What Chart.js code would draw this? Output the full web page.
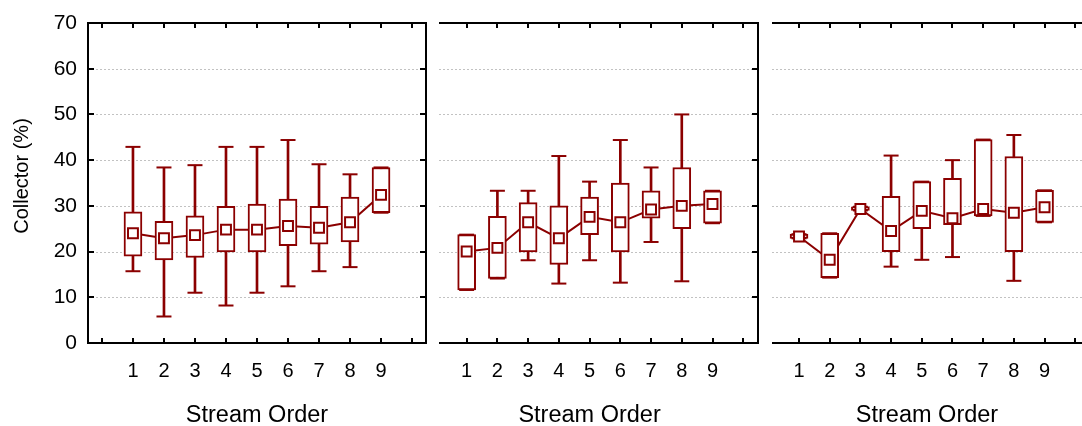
<!DOCTYPE html>
<html>
<head>
<meta charset="utf-8">
<script src="https://cdn.jsdelivr.net/npm/chart.js@4.4.1/dist/chart.umd.min.js"></script>
<style>
  html, body { margin: 0; padding: 0; background: #fff; }
  body { width: 1082px; height: 426px; position: relative; overflow: hidden; }
  canvas { position: absolute; top: 0; }
</style>
</head>
<body>
<canvas id="panelA" width="432" height="426" style="left:0px"></canvas>
<canvas id="panelB" width="334" height="426" style="left:432px"></canvas>
<canvas id="panelC" width="316" height="426" style="left:766px"></canvas>
<script>
// Stream orders (x categories) and y-axis tick values
const categories = ['1', '2', '3', '4', '5', '6', '7', '8', '9'];
const yTicks = [0, 10, 20, 30, 40, 50, 60, 70];
const xTitle = 'Stream Order';
const yTitle = 'Collector (%)';

// Panel A: whisker min, lower quartile, median, upper quartile, whisker max
const panelAMin    = [15.7,  5.8, 11.0,  8.2, 11.0, 12.4, 15.7, 16.6, 28.5];
const panelAQ1     = [19.0, 18.2, 18.7, 19.9, 19.9, 21.3, 21.6, 22.1, 28.5];
const panelAMedian = [24.0, 22.9, 23.6, 24.8, 24.8, 25.6, 25.2, 26.4, 32.4];
const panelAQ3     = [28.7, 26.6, 27.8, 29.9, 30.4, 31.5, 29.9, 31.9, 38.4];
const panelAMax    = [42.9, 38.4, 38.9, 42.9, 42.9, 44.4, 39.1, 36.9, 38.4];

// Panel B
const panelBMin    = [11.6, 14.1, 18.1, 13.0, 18.1, 13.2, 22.1, 13.5, 26.2];
const panelBQ1     = [11.6, 14.1, 19.9, 17.2, 23.7, 19.9, 27.3, 25.0, 26.2];
const panelBMedian = [20.0, 20.8, 26.4, 22.9, 27.6, 26.4, 29.2, 30.0, 30.4];
const panelBQ3     = [23.7, 27.7, 30.7, 30.0, 31.9, 35.0, 33.3, 38.4, 33.3];
const panelBMax    = [23.7, 33.3, 33.3, 40.9, 35.3, 44.4, 38.4, 50.0, 33.3];

// Panel C
const panelCMin    = [22.9, 14.3, 29.0, 16.7, 18.2, 18.8, 27.8, 13.6, 26.4];
const panelCQ1     = [22.9, 14.3, 29.0, 20.0, 25.0, 25.9, 27.8, 20.0, 26.4];
const panelCMedian = [23.3, 18.2, 29.3, 24.5, 28.9, 27.3, 29.3, 28.5, 29.7];
const panelCQ3     = [23.8, 24.0, 29.8, 32.1, 35.3, 36.0, 44.5, 40.8, 33.4];
const panelCMax    = [23.8, 24.0, 29.8, 41.0, 35.3, 40.0, 44.5, 45.5, 33.4];

const RED = '#8b0000';
const FONT = "'Liberation Sans', Arial, Helvetica, sans-serif";
const PLOT_TOP = 23;
const PLOT_BOTTOM = 343;
const CANVAS_H = 426;

// Frame, inward tick marks, dotted grid and axis titles
const framePlugin = {
  id: 'frame',
  beforeDatasetsDraw(chart, args, o) {
    const { ctx, chartArea: a, scales: { y } } = chart;
    ctx.save();
    ctx.strokeStyle = '#c2c2c2';
    ctx.lineWidth = 1;
    ctx.setLineDash([2, 2]);
    y.ticks.forEach(t => {
      if (t.value <= y.min || t.value >= y.max) return;
      const py = Math.round(y.getPixelForValue(t.value)) + 0.5;
      ctx.beginPath();
      ctx.moveTo(a.left, py);
      ctx.lineTo(a.right, py);
      ctx.stroke();
    });
    ctx.restore();
  },
  afterDatasetsDraw(chart, args, o) {
    const { ctx, chartArea: a, scales: { x, y } } = chart;
    ctx.save();
    ctx.strokeStyle = '#000';
    ctx.lineWidth = 2;
    ctx.lineCap = 'butt';
    const sides = o.sides || [];
    ctx.beginPath();
    if (sides.includes('top'))    { ctx.moveTo(a.left, a.top); ctx.lineTo(a.right, a.top); }
    if (sides.includes('bottom')) { ctx.moveTo(a.left, a.bottom); ctx.lineTo(a.right, a.bottom); }
    if (sides.includes('left'))   { ctx.moveTo(a.left, a.top - 1); ctx.lineTo(a.left, a.bottom + 1); }
    if (sides.includes('right'))  { ctx.moveTo(a.right, a.top - 1); ctx.lineTo(a.right, a.bottom + 1); }
    ctx.stroke();

    const len = 5;
    ctx.beginPath();
    x.ticks.forEach(t => {
      const px = Math.round(x.getPixelForValue(t.value));
      ctx.moveTo(px, a.bottom); ctx.lineTo(px, a.bottom - len);
      ctx.moveTo(px, a.top);    ctx.lineTo(px, a.top + len);
    });
    (o.yTickSides || []).forEach(side => {
      y.ticks.forEach(t => {
        const py = Math.round(y.getPixelForValue(t.value));
        if (side === 'left')  { ctx.moveTo(a.left, py);  ctx.lineTo(a.left + len + 1, py); }
        if (side === 'right') { ctx.moveTo(a.right, py); ctx.lineTo(a.right - len - 1, py); }
      });
    });
    ctx.stroke();
    ctx.restore();
  },
  afterDraw(chart, args, o) {
    const { ctx, chartArea: a, scales: { x } } = chart;
    ctx.save();
    ctx.fillStyle = '#000';
    ctx.textAlign = 'center';
    ctx.textBaseline = 'middle';
    ctx.font = `${o.titleSize}px ${FONT}`;
    const tx = o.titleValue != null ? x.getPixelForValue(o.titleValue) : (a.left + a.right) / 2;
    ctx.fillText(xTitle, tx, o.titleY);
    if (o.yTitle) {
      ctx.font = `${o.yTitle.size}px ${FONT}`;
      ctx.translate(o.yTitle.x, o.yTitle.y);
      ctx.rotate(-Math.PI / 2);
      ctx.fillText(yTitle, 0, 0);
    }
    ctx.restore();
  }
};

function boxDatasets(mn, q1, md, q3, mx) {
  const xs = categories.map(Number);
  return [
    { // median trace, drawn underneath everything
      type: 'line', order: 5,
      data: xs.map((x, i) => ({ x, y: md[i] })),
      borderColor: RED, borderWidth: 2, pointRadius: 0, tension: 0, fill: false
    },
    { // whisker stems
      type: 'bar', order: 4, grouped: false,
      data: xs.map((x, i) => ({ x, y: [mn[i], mx[i]] })),
      backgroundColor: RED, borderWidth: 0, barThickness: 2
    },
    { // whisker caps
      type: 'scatter', order: 3,
      data: xs.flatMap((x, i) => [{ x, y: mn[i] }, { x, y: mx[i] }]),
      pointStyle: 'line', pointRadius: 7.5, borderColor: RED, borderWidth: 2
    },
    { // quartile boxes
      type: 'bar', order: 2, grouped: false,
      data: xs.map((x, i) => ({ x, y: [q1[i], q3[i]] })),
      backgroundColor: '#fff', borderColor: RED, borderWidth: 2,
      borderSkipped: false, barThickness: 18
    },
    { // median markers
      type: 'scatter', order: 1,
      data: xs.map((x, i) => ({ x, y: md[i] })),
      pointStyle: 'rect', pointRadius: 7,
      backgroundColor: '#fff', borderColor: RED, borderWidth: 2
    }
  ];
}

function makePanel(id, cfg) {
  const canvas = document.getElementById(id);
  return new Chart(canvas, {
    type: 'bar',
    data: { datasets: boxDatasets(...cfg.series) },
    plugins: [framePlugin],
    options: {
      responsive: false,
      devicePixelRatio: 1,
      animation: false,
      events: [],
      layout: {
        autoPadding: false,
        padding: { left: cfg.padLeft, right: cfg.padRight, top: PLOT_TOP, bottom: 0 }
      },
      plugins: {
        legend: { display: false },
        tooltip: { enabled: false },
        frame: {
          sides: cfg.sides,
          yTickSides: cfg.yTickSides,
          titleValue: cfg.titleValue,
          titleY: 416,
          titleSize: 23.5,
          yTitle: cfg.yTitle
        }
      },
      scales: {
        x: {
          type: 'linear',
          offset: false,
          min: cfg.xMin,
          max: cfg.xMax,
          afterBuildTicks: s => {
            s.ticks = [];
            for (let v = Math.ceil(s.min); v <= s.max; v++) s.ticks.push({ value: v });
          },
          afterFit: s => {
            s.height = CANVAS_H - PLOT_BOTTOM;
            s.paddingLeft = 0;
            s.paddingRight = 0;
          },
          grid: { display: false, drawTicks: false, offset: false },
          border: { display: false },
          ticks: {
            autoSkip: false,
            maxRotation: 0,
            padding: 16,
            color: '#000',
            font: { family: FONT, size: 20 },
            callback: v => categories[v - 1] ?? ''
          }
        },
        y: {
          type: 'linear',
          min: 0,
          max: 70,
          afterBuildTicks: s => { s.ticks = yTicks.map(v => ({ value: v })); },
          afterFit: s => {
            s.width = cfg.yWidth;
            s.paddingTop = 0;
            s.paddingBottom = 0;
          },
          grid: { display: false, drawTicks: false },
          border: { display: false },
          ticks: {
            display: cfg.yLabels,
            padding: 11,
            color: '#000',
            font: { family: FONT, size: 21 }
          }
        }
      }
    }
  });
}

makePanel('panelA', {
  series: [panelAMin, panelAQ1, panelAMedian, panelAQ3, panelAMax],
  xMin: -0.45, xMax: 10.45,
  padLeft: 0, padRight: 6, yWidth: 88, yLabels: true,
  sides: ['left', 'top', 'right', 'bottom'], yTickSides: ['left', 'right'],
  titleValue: 5,
  yTitle: { x: 22, y: 176, size: 20 }
});

makePanel('panelB', {
  series: [panelBMin, panelBQ1, panelBMedian, panelBQ3, panelBMax],
  xMin: 0.1, xMax: 10.48,
  padLeft: 7, padRight: 8, yWidth: 0, yLabels: false,
  sides: ['top', 'right', 'bottom'], yTickSides: ['right'],
  titleValue: 5
});

makePanel('panelC', {
  series: [panelCMin, panelCQ1, panelCMedian, panelCQ3, panelCMax],
  xMin: 0.12, xMax: 10.22,
  padLeft: 6, padRight: 0, yWidth: 0, yLabels: false,
  sides: ['top', 'bottom'], yTickSides: [],
  titleValue: null
});
</script>
</body>
</html>
